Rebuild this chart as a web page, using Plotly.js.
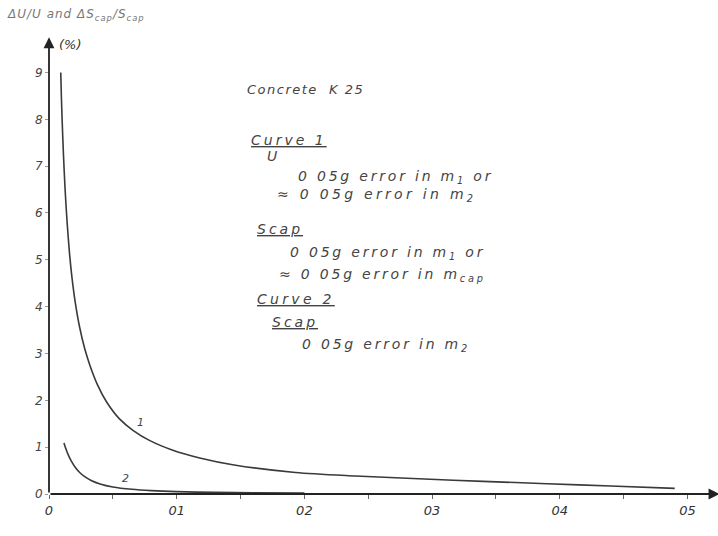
<!DOCTYPE html>
<html>
<head>
<meta charset="utf-8">
<script src="https://cdn.plot.ly/plotly-3.0.1.min.js"></script>
<style>html,body{margin:0;padding:0;background:#fff;}#chart{width:718px;height:536px;}</style>
</head>
<body>
<div id="chart"></div>
<script>
// Curve 1: ΔU/U (and ΔScap/Scap), % vs weight of sample (kg)
const curve1X = [0.0092, 0.0097, 0.0104, 0.0113, 0.0125, 0.014, 0.016, 0.018, 0.0204, 0.024, 0.028, 0.032, 0.038, 0.045, 0.055, 0.066, 0.079, 0.097, 0.118, 0.145, 0.193, 0.24, 0.294, 0.34, 0.39, 0.44, 0.49];
const curve1Y = [9.0, 8.47, 7.9, 7.26, 6.56, 5.87, 5.16, 4.62, 4.12, 3.56, 3.1, 2.75, 2.33, 1.97, 1.61, 1.355, 1.14, 0.935, 0.77, 0.62, 0.46, 0.385, 0.32, 0.27, 0.22, 0.17, 0.12];
// Curve 2: ΔScap/Scap
const curve2X = [0.0117, 0.013, 0.015, 0.0175, 0.0205, 0.024, 0.028, 0.033, 0.040, 0.050, 0.065, 0.080, 0.100, 0.130, 0.160, 0.200];
const curve2Y = [1.09, 0.98, 0.84, 0.70, 0.57, 0.46, 0.37, 0.29, 0.215, 0.15, 0.10, 0.072, 0.05, 0.035, 0.027, 0.02];
const xTickVals = [0, 0.1, 0.2, 0.3, 0.4, 0.5];
const xTickText = ['0', '01', '02', '03', '04', '05'];
const yTickVals = [0, 1, 2, 3, 4, 5, 6, 7, 8, 9];
const yTickText = ['0', '1', '2', '3', '4', '5', '6', '7', '8', '9'];

const ink = '#3a3a3a';
const hand = {family: 'DejaVu Sans', size: 14, color: '#444', style: 'italic'};

const traces = [
  {x: curve1X, y: curve1Y, mode: 'lines', line: {color: ink, width: 1.6, shape: 'spline', smoothing: 0.8}, hoverinfo: 'skip'},
  {x: curve2X, y: curve2Y, mode: 'lines', line: {color: ink, width: 1.6, shape: 'spline', smoothing: 0.8}, hoverinfo: 'skip'}
];

function sp(text, ls) {
  return '<span style="letter-spacing:' + ls + 'px">' + text + '</span>';
}
function note(x, y, text, extra) {
  return Object.assign({x: x, y: y, xref: 'x', yref: 'y', text: text, showarrow: false,
    xanchor: 'left', yanchor: 'middle', font: hand}, extra || {});
}

const annotations = [
  // axis arrows
  {x: 0.525, y: 0, ax: 0, ay: 0, xref: 'x', yref: 'y', axref: 'x', ayref: 'y', showarrow: true,
   arrowhead: 2, arrowsize: 1.2, arrowwidth: 1.8, arrowcolor: '#222', text: ''},
  {x: 0, y: 9.75, ax: 0, ay: 0, xref: 'x', yref: 'y', axref: 'x', ayref: 'y', showarrow: true,
   arrowhead: 2, arrowsize: 1.2, arrowwidth: 1.8, arrowcolor: '#222', text: ''},
  note(0.006, 9.6, '(%)', {font: Object.assign({}, hand, {size: 13, color: '#333'})}),
  {x: -0.066, y: 1.044, xref: 'paper', yref: 'paper', xanchor: 'left', yanchor: 'middle', showarrow: false,
   text: sp('ΔU/U and ΔS<sub>cap</sub>/S<sub>cap</sub>', 1), font: Object.assign({}, hand, {size: 12, color: '#777'})},
  note(0.402, -0.6, sp('Weight of sample (kg)', 1), {font: Object.assign({}, hand, {size: 12})}),
  note(0.1535, 8.63, sp('Concrete  K 25', 1.5), {font: Object.assign({}, hand, {size: 13})}),
  note(0.157, 7.56, sp('<u>Curve 1</u>', 3)),
  note(0.169, 7.22, 'U'),
  note(0.1934, 6.77, sp('0 05g error in m<sub>1</sub> or', 2.8)),
  note(0.177, 6.39, sp('≈ 0 05g error in m<sub>2</sub>', 3.3)),
  note(0.161, 5.66, sp('<u>Scap</u>', 3)),
  note(0.187, 5.15, sp('0 05g error in m<sub>1</sub> or', 2.8)),
  note(0.1785, 4.68, sp('≈ 0 05g error in m<sub>cap</sub>', 2.8)),
  note(0.161, 4.17, sp('<u>Curve 2</u>', 3.3)),
  note(0.173, 3.68, sp('<u>Scap</u>', 3)),
  note(0.1966, 3.18, sp('0 05g error in m<sub>2</sub>', 2.8)),
  note(0.0673, 1.52, '1', {font: Object.assign({}, hand, {size: 11})}),
  note(0.0556, 0.34, '2', {font: Object.assign({}, hand, {size: 11})})
];

const layout = {
  width: 718, height: 536,
  margin: {l: 49, r: 5, t: 35, b: 42},
  paper_bgcolor: '#fff', plot_bgcolor: '#fff',
  showlegend: false,
  xaxis: {range: [0, 0.52], showgrid: false, zeroline: false, showline: false,
    tickvals: xTickVals, ticktext: xTickText, ticks: 'outside', ticklen: 4, tickcolor: '#666',
    minor: {dtick: 0.05, tick0: 0, ticks: 'outside', ticklen: 4, tickcolor: '#666'},
    tickfont: {family: 'DejaVu Sans', size: 13, color: '#333', style: 'italic'}},
  yaxis: {range: [0, 9.8], showgrid: false, zeroline: false, showline: false,
    tickvals: yTickVals, ticktext: yTickText, ticks: 'outside', ticklen: 3, tickcolor: '#999',
    tickfont: {family: 'DejaVu Sans', size: 12, color: '#444', style: 'italic'}},
  annotations: annotations
};

Plotly.newPlot('chart', traces, layout, {displayModeBar: false, staticPlot: true});
</script>
</body>
</html>
